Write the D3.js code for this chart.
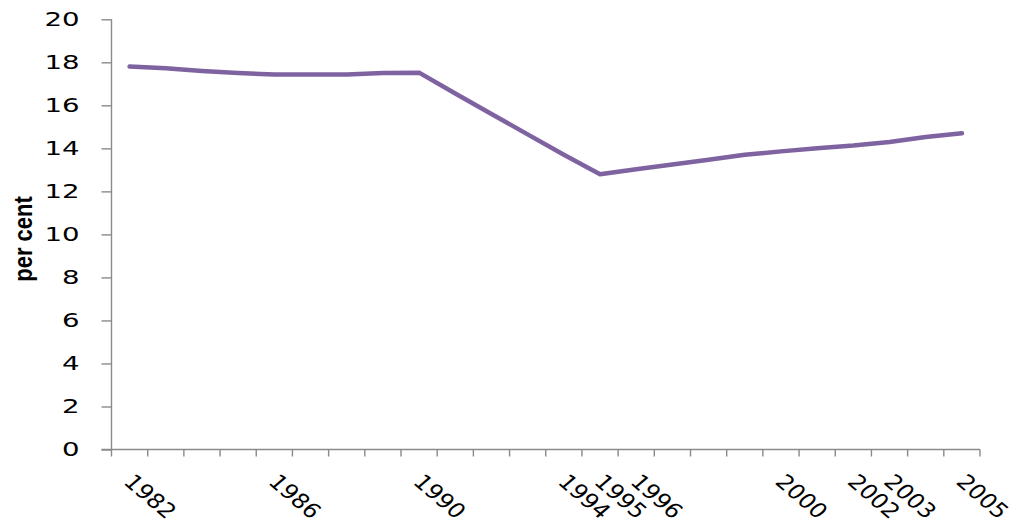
<!DOCTYPE html>
<html>
<head>
<meta charset="utf-8">
<script src="https://cdn.jsdelivr.net/npm/d3@7"></script>
<style>
  html, body { margin: 0; padding: 0; background: #fff; }
  svg { display: block; }
</style>
</head>
<body>
<svg id="chart" width="1014" height="524"></svg>
<script>
// Yearly series, 1982–2005
const years = [1982, 1983, 1984, 1985, 1986, 1987, 1988, 1989, 1990, 1991, 1992, 1993,
               1994, 1995, 1996, 1997, 1998, 1999, 2000, 2001, 2002, 2003, 2004, 2005];
const values = [17.8, 17.72, 17.6, 17.5, 17.43, 17.43, 17.43, 17.5, 17.52, 16.55, 15.6, 14.65,
                13.7, 12.8, 13.03, 13.25, 13.47, 13.7, 13.86, 14.0, 14.13, 14.3, 14.53, 14.7];
// Category labels shown under the axis (blank where no label is printed)
const tickLabels = ["1982", "", "", "", "1986", "", "", "", "1990", "", "", "",
                    "1994", "1995", "1996", "", "", "", "2000", "", "2002", "2003", "", "2005"];
const yTicks = [0, 2, 4, 6, 8, 10, 12, 14, 16, 18, 20];
const yTitle = "per cent";

const svg = d3.select("#chart");
const plotLeft = 111.5, plotRight = 980, plotTop = 19.3, plotBottom = 449.5;
const axisColor = "#8a8a8a";
const fontFamily = "'DejaVu Sans', Verdana, sans-serif";
const wideX = 1.38;   // horizontal widening of the tick lettering

const x = d3.scaleBand().domain(years).range([plotLeft, plotRight]).paddingInner(0).paddingOuter(0);
const y = d3.scaleLinear().domain([0, 20]).range([plotBottom, plotTop]);

// Y axis
const yAxis = svg.append("g").attr("transform", `translate(${plotLeft},0)`)
  .call(d3.axisLeft(y).tickValues(yTicks).tickSize(10).tickPadding(22).tickFormat(d3.format("d")));
yAxis.select(".domain").attr("stroke", axisColor).attr("stroke-width", 1.4)
  .attr("d", `M0,${y(20)}V${plotBottom}`);
yAxis.selectAll(".tick line").attr("stroke", axisColor).attr("stroke-width", 1.4);
yAxis.selectAll(".tick text")
  .attr("x", 0)
  .attr("transform", `translate(-32,0) scale(${wideX},1)`)
  .attr("font-family", fontFamily).attr("font-size", 20).attr("fill", "#000");

// X axis: tick marks on category boundaries
const xg = svg.append("g");
xg.append("line")
  .attr("x1", plotLeft - 10).attr("x2", plotRight)
  .attr("y1", plotBottom).attr("y2", plotBottom)
  .attr("stroke", axisColor).attr("stroke-width", 1.4);
const boundaries = years.map(d => x(d)).concat([x(years[years.length - 1]) + x.bandwidth()]);
xg.selectAll("line.xt").data(boundaries).join("line")
  .attr("class", "xt")
  .attr("x1", d => d).attr("x2", d => d)
  .attr("y1", plotBottom).attr("y2", plotBottom + 7)
  .attr("stroke", axisColor).attr("stroke-width", 1.4);

// Rotated category labels
xg.selectAll("text.xl").data(years.map((yr, i) => ({ yr, label: tickLabels[i] })).filter(d => d.label))
  .join("text")
  .attr("class", "xl")
  .attr("transform", d => `translate(${x(d.yr) + x.bandwidth() / 2 - 7},${plotBottom + 33.5}) scale(1.18,1) rotate(45)`)
  .attr("text-anchor", "start")
  .attr("font-family", fontFamily).attr("font-size", 20.5).attr("fill", "#000")
  .text(d => d.label);

// Y axis title
svg.append("text")
  .attr("transform", `translate(31.5,239) rotate(-90) scale(1,1.2)`)
  .attr("text-anchor", "middle")
  .attr("font-family", "'Liberation Sans', Arial, sans-serif")
  .attr("font-weight", "bold").attr("font-size", 22)
  .attr("fill", "#000")
  .text(yTitle);

// Series line
const line = d3.line()
  .x((d, i) => x(years[i]) + x.bandwidth() / 2)
  .y(d => y(d));
svg.append("path")
  .datum(values)
  .attr("d", line)
  .attr("fill", "none")
  .attr("stroke", "#7f63a1")
  .attr("stroke-width", 4.5)
  .attr("stroke-linejoin", "round")
  .attr("stroke-linecap", "round");
</script>
</body>
</html>
